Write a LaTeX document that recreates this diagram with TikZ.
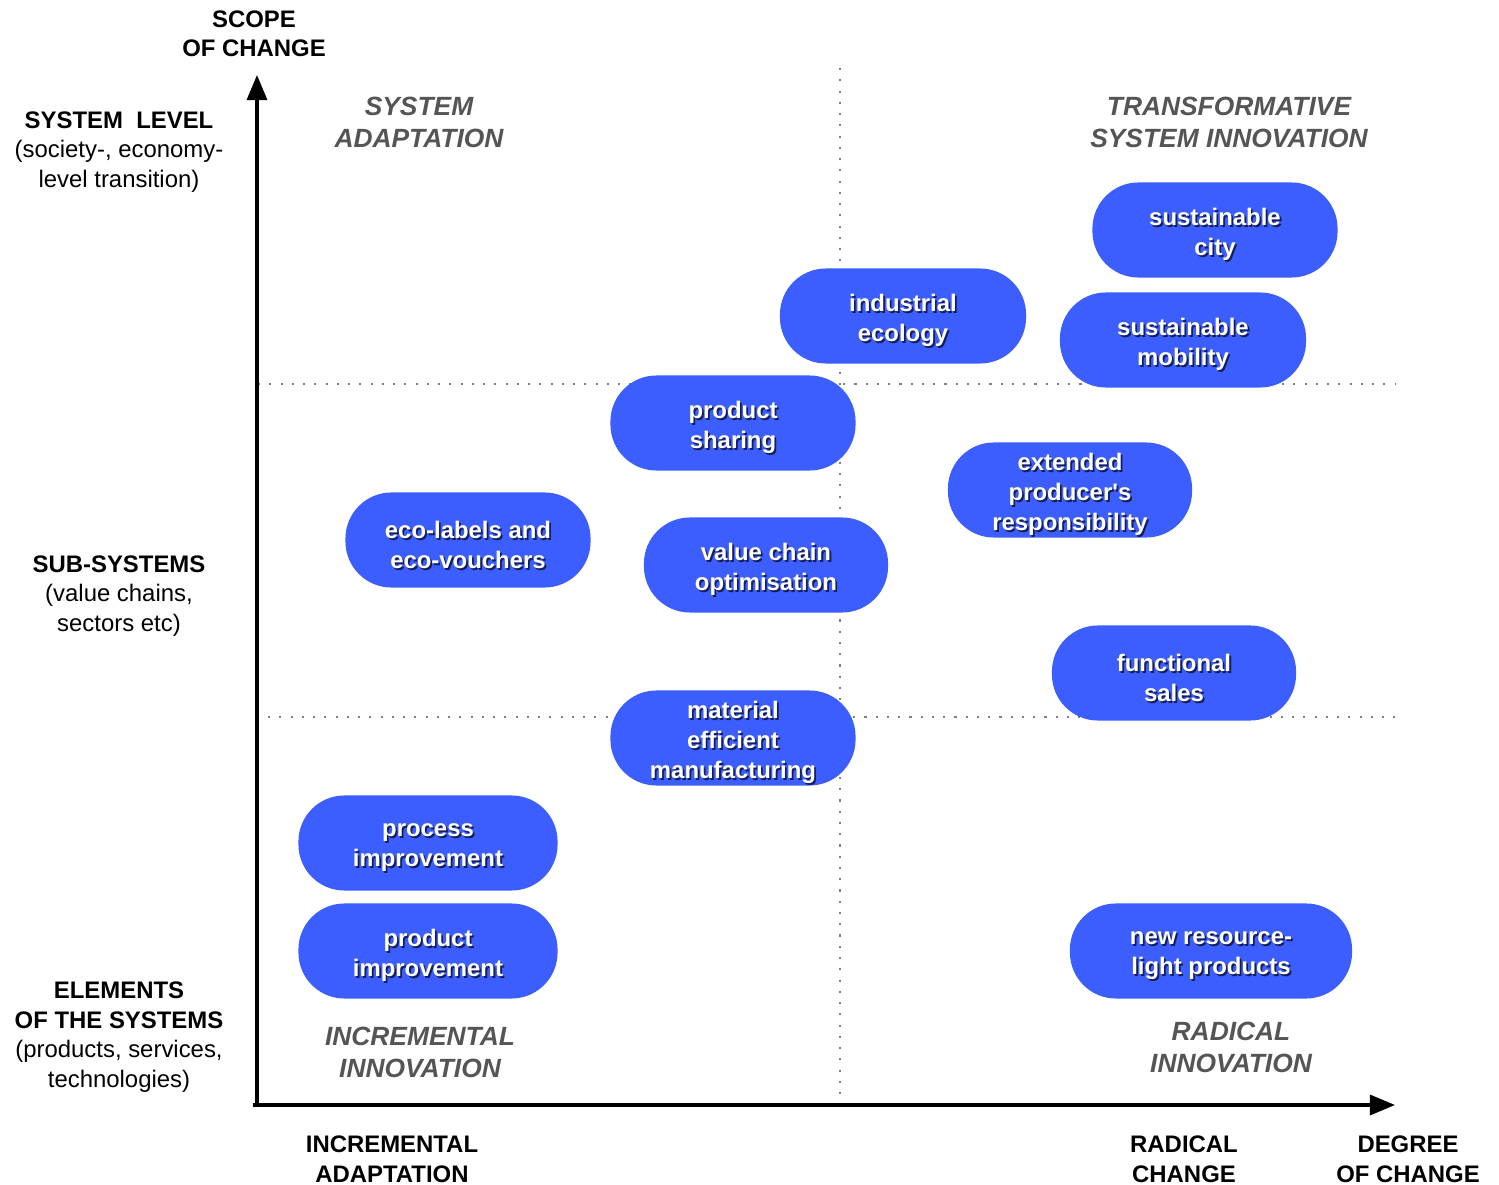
\documentclass[tikz,border=0pt]{standalone}
\usepackage{fontspec}
\setmainfont{Liberation Sans}
\usetikzlibrary{arrows.meta}

\definecolor{pillblue}{RGB}{60,94,255}
\definecolor{titlegray}{RGB}{85,85,85}
\definecolor{shadowblue}{RGB}{20,30,90}

% white text with a small dark drop shadow
\newcommand{\sh}[1]{\raisebox{-1.6pt}[\height][\depth]{%
  \rlap{\hspace{0.5pt}\raisebox{-0.6pt}{\color{shadowblue}#1}}#1}}

\tikzset{
  pill/.style={fill=pillblue, rounded corners=0.46cm, minimum width=2.45cm,
    minimum height=0.95cm, inner sep=0pt, align=center, text=white,
    font=\fontsize{6.8}{8.5}\selectfont\bfseries},
  axislabel/.style={align=center, font=\fontsize{6.8}{8.4}\selectfont\bfseries},
  levellabel/.style={align=center, font=\fontsize{6.8}{8.4}\selectfont},
  quadtitle/.style={align=center, text=titlegray,
    font=\fontsize{7.5}{9.1}\selectfont\bfseries\itshape},
  grid/.style={gray, line width=0.6pt, dash pattern=on 0.6pt off 2.6pt},
  axis/.style={line width=0.9pt, -{Triangle[length=0.25cm, width=0.2cm]}}
}

\begin{document}
\begin{tikzpicture}[x=0.01cm, y=-0.01cm]
  \useasboundingbox (0,0) rectangle (1499,1185);

  % quadrant grid
  \draw[grid] (840,68) -- (840,1100);
  \draw[grid] (258,384) -- (1395,384);
  \draw[grid] (268,717) -- (1395,717);

  % axes
  \coordinate (origin) at (257,1105);
  \coordinate (ytip) at (257,75);
  \coordinate (xtip) at (1395,1105);
  \draw[axis] (origin) -- (ytip);
  \draw[axis] ([xshift=-0.04cm]origin) -- (xtip);

  % axis labels
  \node[axislabel] (scope) at (254,34) {SCOPE\\OF CHANGE};
  \node[axislabel] (incadapt) at (392,1159) {INCREMENTAL\\ADAPTATION};
  \node[axislabel] (radchange) at (1184,1159) {RADICAL\\CHANGE};
  \node[axislabel] (degree) at (1408,1159) {DEGREE\\OF CHANGE};

  % levels
  \node[levellabel] (syslevel) at (119,152)
    {\textbf{SYSTEM\ \ LEVEL}\\(society-, economy-\\level transition)};
  \node[levellabel] (subsys) at (119,596)
    {\textbf{SUB-SYSTEMS}\\(value chains,\\sectors etc)};
  \node[levellabel] (elements) at (119,1037)
    {\textbf{ELEMENTS}\\\textbf{OF THE SYSTEMS}\\(products, services,\\technologies)};

  % quadrants
  \node[quadtitle] (sysadapt) at (419,122) {SYSTEM\\ADAPTATION};
  \node[quadtitle] (transinno) at (1229,122) {TRANSFORMATIVE\\SYSTEM INNOVATION};
  \node[quadtitle] (incinno) at (420,1052) {INCREMENTAL\\INNOVATION};
  \node[quadtitle] (radinno) at (1231,1047) {RADICAL\\INNOVATION};

  % measures
  \foreach \name/\px/\py/\w/\txt in {
      city/1215/230/2.45/{\sh{sustainable}\\\sh{city}},
      ecology/903/316/2.46/{\sh{industrial}\\\sh{ecology}},
      mobility/1183/340/2.46/{\sh{sustainable}\\\sh{mobility}},
      sharing/733/423/2.45/{\sh{product}\\\sh{sharing}},
      epr/1070/490/2.44/{\sh{extended}\\\sh{producer\textquotesingle s}\\\sh{responsibility}},
      ecolabels/468/540/2.45/{\sh{eco-labels and}\\\sh{eco-vouchers}},
      valuechain/766/565/2.44/{\sh{value chain}\\\sh{optimisation}},
      sales/1174/673/2.44/{\sh{functional}\\\sh{sales}},
      material/733/738/2.45/{\sh{material}\\\sh{efficient}\\\sh{manufacturing}},
      process/428/843/2.59/{\sh{process}\\\sh{improvement}},
      prodimpr/428/951/2.59/{\sh{product}\\\sh{improvement}},
      resource/1211/951/2.82/{\sh{new resource-}\\\sh{light products}}} {
    \node[pill, minimum width=\w cm] (\name) at (\px,\py) {\txt};
  }
\end{tikzpicture}
\end{document}
